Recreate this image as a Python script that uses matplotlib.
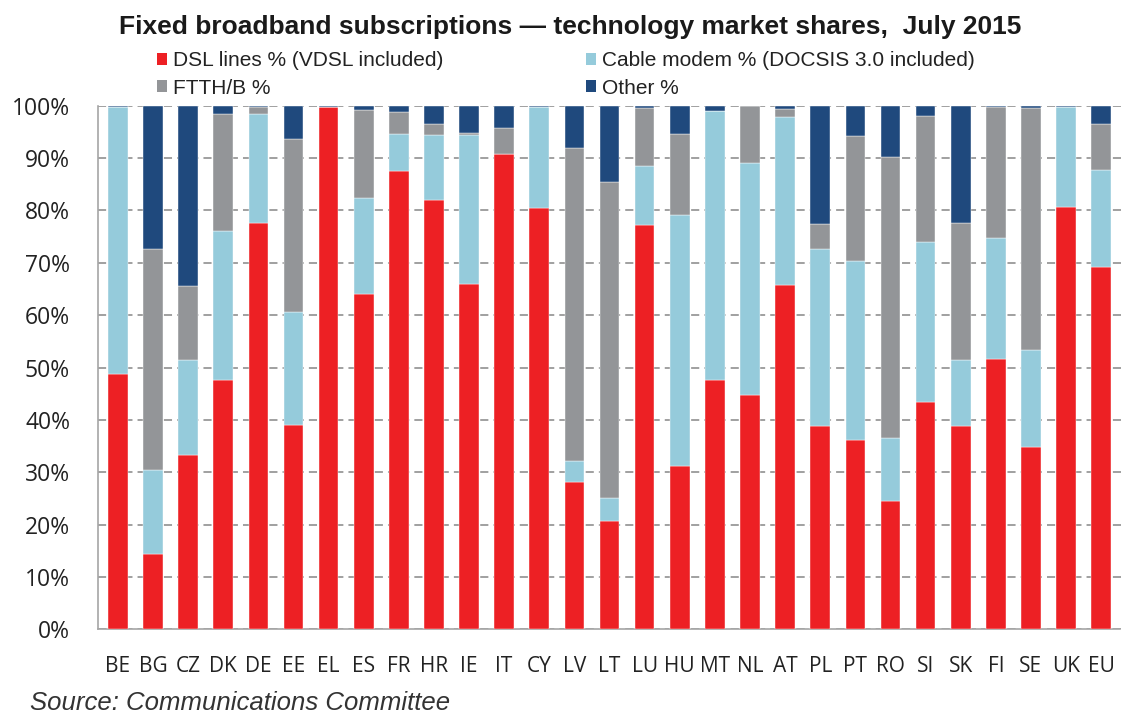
import numpy as np
import matplotlib
matplotlib.use("Agg")
import matplotlib.pyplot as plt
from matplotlib.patches import Patch

countries = ["BE", "BG", "CZ", "DK", "DE", "EE", "EL", "ES", "FR", "HR", "IE", "IT", "CY", "LV",
             "LT", "LU", "HU", "MT", "NL", "AT", "PL", "PT", "RO", "SI", "SK", "FI", "SE", "UK", "EU"]

dsl = [48.8, 14.4, 33.2, 47.6, 77.7, 39.0, 99.7, 64.1, 87.6, 82.0, 65.9, 90.8, 80.5, 28.2,
       20.6, 77.2, 31.1, 47.7, 44.8, 65.8, 38.8, 36.1, 24.5, 43.5, 38.8, 51.7, 34.8, 80.6, 69.2]
cable = [50.9, 16.0, 18.2, 28.4, 20.8, 21.6, 0.0, 18.2, 7.0, 12.5, 28.6, 0.0, 19.2, 3.9,
         4.4, 11.3, 48.1, 51.3, 44.2, 32.0, 33.8, 34.3, 12.0, 30.4, 12.6, 23.1, 18.5, 19.2, 18.6]
ftth = [0.0, 42.2, 14.1, 22.4, 1.3, 33.1, 0.0, 16.9, 4.3, 2.1, 0.3, 5.0, 0.0, 59.8,
        60.5, 11.1, 15.4, 0.0, 11.0, 1.5, 4.8, 23.9, 53.8, 24.1, 26.2, 24.9, 46.2, 0.0, 8.7]
other = [0.3, 27.4, 34.5, 1.6, 0.2, 6.3, 0.3, 0.8, 1.1, 3.4, 5.2, 4.2, 0.3, 8.1,
         14.5, 0.4, 5.4, 1.0, 0.0, 0.7, 22.6, 5.7, 9.7, 2.0, 22.4, 0.3, 0.5, 0.2, 3.5]

series = [
    ("DSL lines % (VDSL included)", dsl, "#ED2024"),
    ("Cable modem % (DOCSIS 3.0 included)", cable, "#95CBDB"),
    ("FTTH/B %", ftth, "#939598"),
    ("Other %", other, "#1F497D"),
]

fig = plt.figure(figsize=(11.25, 7.15), dpi=100)
ax = fig.add_axes([0.087, 0.12, 0.909, 0.732])

x = np.arange(len(countries))
bottom = np.zeros(len(countries))
for name, vals, col in series:
    vals = np.array(vals)
    ax.bar(x, vals, bottom=bottom, width=0.56, color=col, edgecolor="white",
           linewidth=0.3, zorder=3)
    bottom += vals

ax.set_ylim(0, 100)
ax.set_xlim(-0.57, len(countries) - 0.45)
ax.set_yticks(np.arange(0, 101, 10))
ax.set_yticklabels([f"{v}%" for v in range(0, 101, 10)])
ax.set_xticks(x)
ax.set_xticklabels(countries)

ax.yaxis.grid(True, linestyle=(0, (4.5, 2.8)), color="#999999", linewidth=1.3, zorder=0)
ax.set_axisbelow(True)
for s in ["top", "right"]:
    ax.spines[s].set_visible(False)
for s in ["left", "bottom"]:
    ax.spines[s].set_color("#A6A6A6")
    ax.spines[s].set_linewidth(1.2)
ax.tick_params(axis="both", length=0, colors="#222222")
ax.tick_params(axis="x", pad=19, labelsize=15)
ax.tick_params(axis="y", pad=20, labelsize=16.5)
for lab in ax.get_xticklabels() + ax.get_yticklabels():
    lab.set_family(["Open Sans", "DejaVu Sans"])

fig.text(0.507, 0.962, "Fixed broadband subscriptions \u2014 technology market shares,  July 2015",
         ha="center", va="center", fontsize=19, fontweight="bold",
         family=["Liberation Sans", "DejaVu Sans"], color="#1a1a1a")

# two legend columns placed separately, entries run row by row
leg_cols = [(series[0], series[2], 157), (series[1], series[3], 586)]
for a, b, xpx in leg_cols:
    handles = [Patch(facecolor=s[2], label=s[0]) for s in (a, b)]
    leg = fig.legend(handles=handles, loc="upper left", bbox_to_anchor=(xpx / 1125, 1 - 51 / 715),
                     frameon=False, handlelength=0.5, handleheight=0.5, handletextpad=0.25,
                     labelspacing=0.42, borderpad=0, borderaxespad=0,
                     prop={"family": ["Liberation Sans", "DejaVu Sans"], "size": 15})
    for t in leg.get_texts():
        t.set_color("#222222")

fig.text(0.027, 0.017, "Source: Communications Committee", ha="left", va="center",
         fontsize=18.5, style="italic", family=["Liberation Sans", "DejaVu Sans"], color="#333333")

fig.savefig("out.png", dpi=100)
